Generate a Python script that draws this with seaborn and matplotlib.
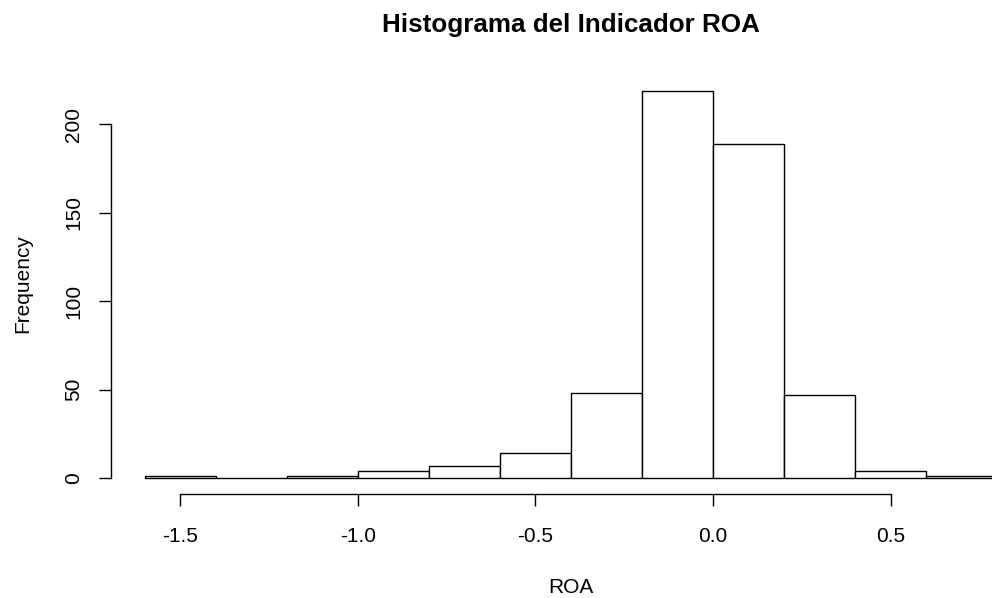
import numpy as np
import matplotlib
matplotlib.use("Agg")
import matplotlib.pyplot as plt
import seaborn as sns

# Histogram bin edges (width 0.2) and counts per bin
bin_edges = [-1.6, -1.4, -1.2, -1.0, -0.8, -0.6, -0.4, -0.2, 0.0, 0.2, 0.4, 0.6, 0.8]
bin_counts = [1, 0, 1, 4, 7, 14, 48, 219, 189, 47, 4, 1]

x_ticks = [-1.5, -1.0, -0.5, 0.0, 0.5]
x_tick_labels = ["-1.5", "-1.0", "-0.5", "0.0", "0.5"]
y_ticks = [0, 50, 100, 150, 200]
y_tick_labels = ["0", "50", "100", "150", "200"]

title = "Histograma del Indicador ROA"
x_label = "ROA"
y_label = "Frequency"

sns.set_theme(style="white")
plt.rcParams["font.family"] = ["Liberation Sans", "DejaVu Sans"]

W, H = 992, 598
fig = plt.figure(figsize=(W / 100, H / 100), dpi=100)

# Plot region extends 4% beyond the bin range, as in base R graphics
x0, x1 = bin_edges[0], bin_edges[-1]
xr = x1 - x0
xlim = (x0 - 0.04 * xr, x1 + 0.04 * xr)
ymax = max(bin_counts)
ylim = (-0.04 * ymax, 1.04 * ymax)

left_px, right_px = 110.9, 1031.1
bottom_px, top_px = 493.6, 75.0
ax = fig.add_axes([left_px / W, 1 - bottom_px / H,
                   (right_px - left_px) / W, (bottom_px - top_px) / H])

centers = [(a + b) / 2 for a, b in zip(bin_edges[:-1], bin_edges[1:])]
sns.histplot(x=centers, weights=bin_counts, bins=bin_edges, ax=ax,
             color="white", edgecolor="black", linewidth=1.0, alpha=1.0,
             clip_on=False)

ax.set_xlim(*xlim)
ax.set_ylim(*ylim)

for s in ["top", "right"]:
    ax.spines[s].set_visible(False)
for s in ["left", "bottom"]:
    ax.spines[s].set_color("black")
    ax.spines[s].set_linewidth(1.0)
ax.spines["bottom"].set_bounds(x_ticks[0], x_ticks[-1])
ax.spines["left"].set_bounds(y_ticks[0], y_ticks[-1])

ax.set_xticks(x_ticks)
ax.set_xticklabels(x_tick_labels)
ax.set_yticks(y_ticks)
ax.set_yticklabels(y_tick_labels, rotation=90, va="center")
ax.tick_params(axis="both", which="major", direction="out", length=8.6,
               width=1.0, color="black", labelsize=15, labelcolor="black",
               bottom=True, left=True)
ax.tick_params(axis="x", pad=15.5)
ax.tick_params(axis="y", pad=11.5)
ax.set_xlabel("")
ax.set_ylabel("")
ax.grid(False)
ax.set_facecolor("white")
fig.patch.set_facecolor("white")

cx = ((left_px + right_px) / 2) / W
fig.text(cx, 1 - 31.7 / H, title, ha="center", va="baseline",
         fontsize=18.7, fontweight="bold", color="black")
fig.text(cx, 1 - 593 / H, x_label, ha="center", va="baseline",
         fontsize=15, color="black")
fig.text(23 / W, 1 - 284 / H, y_label, ha="center", va="center",
         rotation=90, fontsize=15, color="black")

fig.savefig("out.png", dpi=100, facecolor="white")
